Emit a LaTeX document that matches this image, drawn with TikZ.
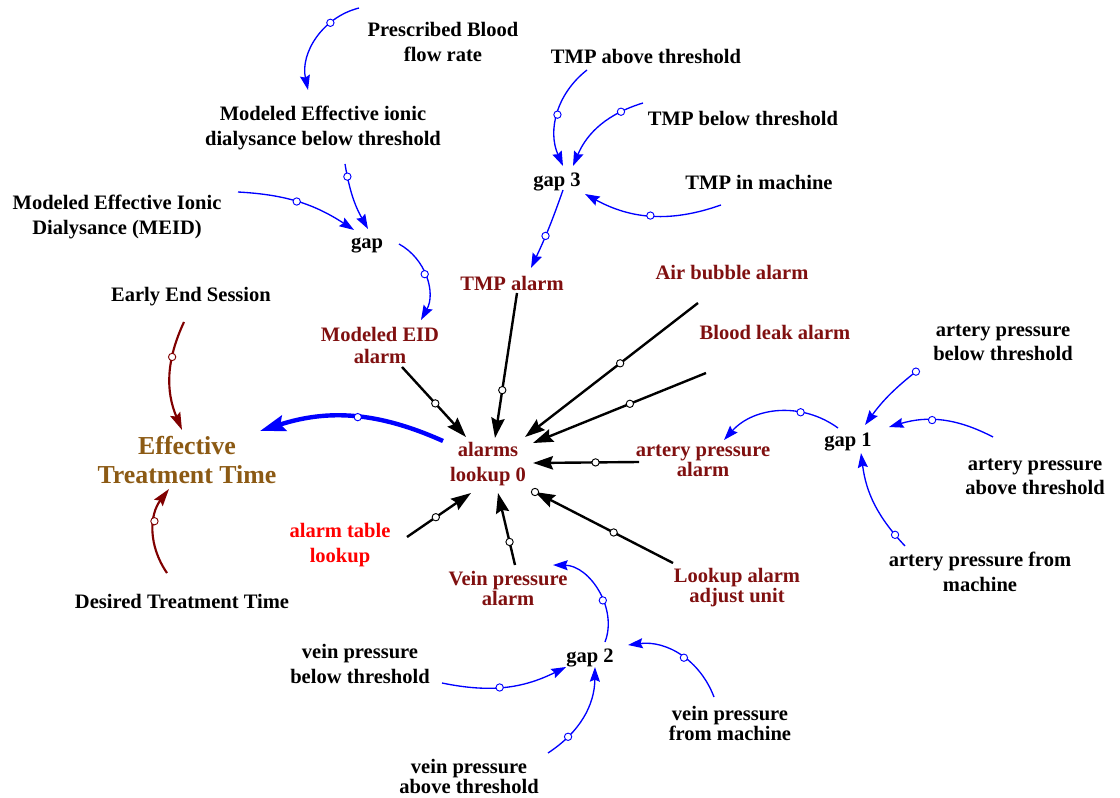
\documentclass[tikz,border=0pt]{standalone}
\usepackage{fontspec}
\setmainfont{Liberation Serif}
\usetikzlibrary{arrows.meta}
\definecolor{vblue}{RGB}{0,0,255}
\definecolor{alarmred}{RGB}{128,16,16}
\definecolor{ettbrown}{RGB}{140,90,20}
\definecolor{tablered}{RGB}{255,0,0}
\definecolor{linkred}{RGB}{128,0,0}
\tikzset{
  var/.style={font=\bfseries\fontsize{15.4}{18.4}\selectfont, align=center, inner sep=0pt},
  tight/.style={font=\bfseries\fontsize{15.4}{15}\selectfont},
  alarm/.style={var, text=alarmred},
  ettnode/.style={var, text=ettbrown, font=\bfseries\fontsize{19.4}{21.75}\selectfont},
  infl/.style={draw=vblue, line width=1pt, -{Stealth[length=11pt,width=7.5pt,inset=1.5pt]}},
  kinfl/.style={draw=black, line width=1.8pt, -{Stealth[length=15pt,width=10pt,inset=2pt]}},
  rinfl/.style={draw=linkred, line width=1.6pt, -{Stealth[length=13pt,width=8pt,inset=2pt]}},
  binfl/.style={draw=vblue, line width=3.3pt, -{Stealth[length=19pt,width=12pt,inset=3pt]}},
  mk/.style={circle, fill=white, inner sep=0pt, minimum size=5.5pt, line width=0.7pt},
  mkb/.style={mk, draw=vblue},
  mkk/.style={mk, draw=black},
  mkr/.style={mk, draw=linkred}
}
\begin{document}
\begin{tikzpicture}[x=0.75pt, y=-0.75pt]
\fill[white] (0,0) rectangle (1120,798);
\useasboundingbox (0,0) rectangle (1120,798);

% variables
\node[var] (pbf) at (443,42) {Prescribed Blood\\flow rate};
\node[var] (medbt) at (323,128) {Modeled Effective ionic\\dialysance below threshold};
\node[var] (meid) at (117,217) {Modeled Effective Ionic\\Dialysance (MEID)};
\node[var] (gap) at (367,245) {gap};
\node[var] (tmpa) at (646,56) {TMP above threshold};
\node[var] (tmpb) at (743,118) {TMP below threshold};
\node[var] (gap3) at (557,182) {gap 3};
\node[var] (tmpm) at (759,182) {TMP in machine};
\node[alarm] (tmpal) at (512,283) {TMP alarm};
\node[alarm] (air) at (732,273) {Air bubble alarm};
\node[alarm] (leak) at (775,332) {Blood leak alarm};
\node[var] (early) at (191,297) {Early End Session};
\node[alarm, font=\bfseries\fontsize{15.4}{16.5}\selectfont] (eida) at (380,345) {Modeled EID\\alarm};
\node[ettnode] (ett) at (187,460) {Effective\\Treatment Time};
\node[alarm] (alarms) at (488,464) {alarms\\lookup 0};
\node[alarm, tight] (apa) at (703,461) {artery pressure\\alarm};
\node[var] (gap1) at (848,442) {gap 1};
\node[var] (apbt) at (1003,343) {artery pressure\\below threshold};
\node[var] (apat) at (1035,477) {artery pressure\\above threshold};
\node[var] (apfm) at (980,572) {artery pressure from\\machine};
\node[var, text=tablered] (atl) at (340,545) {alarm table\\lookup};
\node[alarm, tight] (vpa) at (508,588) {Vein pressure\\alarm};
\node[alarm, tight] (laau) at (737,588) {Lookup alarm\\adjust unit};
\node[var] (dtt) at (182,601) {Desired Treatment Time};
\node[var] (gap2) at (590,658) {gap 2};
\node[var] (vpbt) at (360,664) {vein pressure\\below threshold};
\node[var, tight] (vpat) at (469,776) {vein pressure\\above threshold};
\node[var, tight] (vpfm) at (730,723) {vein pressure\\from machine};

% dialysance branch
\draw[infl] ([shift={(-84,-34)}]pbf.center) to[bend right=44] node[mkb,pos=0.3]{} ([shift={(-15,-38)}]medbt.center);
\draw[infl] ([shift={(22,36)}]medbt.center) to[bend right=10] node[mkb,pos=0.17]{} ([shift={(1,-16)}]gap.center);
\draw[infl] ([shift={(121,-25)}]meid.center) to[bend left=15] node[mkb,pos=0.48]{} ([shift={(-13,-15)}]gap.center);
\draw[infl] ([shift={(32,-1)}]gap.center) to[bend left=45] node[mkb,pos=0.46]{} ([shift={(41,-25)}]eida.center);

% TMP branch
\draw[infl] ([shift={(-59,14)}]tmpa.center) to[bend right=38] node[mkb,pos=0.51]{} ([shift={(6,-16)}]gap3.center);
\draw[infl] ([shift={(-100,-15)}]tmpb.center) to[bend right=25] node[mkb,pos=0.23]{} ([shift={(16,-16)}]gap3.center);
\draw[infl] ([shift={(-38,23)}]tmpm.center) to[bend left=24] node[mkb,pos=0.51]{} ([shift={(28,12)}]gap3.center);
\draw[infl] ([shift={(6,8)}]gap3.center) to[bend left=3] node[mkb,pos=0.59]{} ([shift={(19,-15)}]tmpal.center);

% alarms into the lookup
\draw[kinfl] ([shift={(-34,30)}]air.center) -- node[mkk,pos=0.45]{} ([shift={(37,-27)}]alarms.center);
\draw[kinfl] ([shift={(-69,41)}]leak.center) -- node[mkk,pos=0.44]{} ([shift={(45,-21)}]alarms.center);
\draw[kinfl] ([shift={(-64,1)}]apa.center) -- node[mkk,pos=0.41]{} ([shift={(45,-1)}]alarms.center);
\draw[kinfl] ([shift={(5,10)}]tmpal.center) -- node[mkk,pos=0.67]{} ([shift={(7,-26)}]alarms.center);
\draw[kinfl] ([shift={(22,22)}]eida.center) -- node[mkk,pos=0.52]{} ([shift={(-22,-27)}]alarms.center);
\draw[kinfl] ([shift={(67,-8)}]atl.center) -- node[mkk,pos=0.45]{} ([shift={(-17,29)}]alarms.center);
\draw[kinfl] ([shift={(7,-23)}]vpa.center) -- node[mkk,pos=0.32]{} ([shift={(10,29)}]alarms.center);
\draw[kinfl] ([shift={(-64,-25)}]laau.center) -- node[mkk,pos=0.43]{} node[mkk,pos=1]{} ([shift={(47,28)}]alarms.center);

% treatment time
\draw[binfl] ([shift={(-45,-23)}]alarms.center) to[bend right=21] node[mkb,pos=0.47]{} ([shift={(73,-29)}]ett.center);
\draw[rinfl] ([shift={(-7,25)}]early.center) to[bend right=24] node[mkr,pos=0.32]{} ([shift={(-5,-30)}]ett.center);
\draw[rinfl] ([shift={(-15,-28)}]dtt.center) to[bend left=36] node[mkr,pos=0.61]{} ([shift={(-18,29)}]ett.center);

% artery pressure branch
\draw[infl] ([shift={(-10,-14)}]gap1.center) to[bend right=42] node[mkb,pos=0.32]{} ([shift={(21,-21)}]apa.center);
\draw[infl] ([shift={(-85,27)}]apbt.center) to[bend right=8] node[mkb,pos=0.03]{} ([shift={(17,-17)}]gap1.center);
\draw[infl] ([shift={(-42,-40)}]apat.center) to[bend right=22] node[mkb,pos=0.6]{} ([shift={(41,-15)}]gap1.center);
\draw[infl] ([shift={(-75,-26)}]apfm.center) to[bend left=18] node[mkb,pos=0.13]{} ([shift={(13,11)}]gap1.center);

% vein pressure branch
\draw[infl] ([shift={(15,-16)}]gap2.center) to[bend right=55] node[mkb,pos=0.4]{} ([shift={(45,-23)}]vpa.center);
\draw[infl] ([shift={(82,19)}]vpbt.center) to[bend right=19] node[mkb,pos=0.45]{} ([shift={(-24,9)}]gap2.center);
\draw[infl] ([shift={(79,-23)}]vpat.center) to[bend right=28] node[mkb,pos=0.24]{} ([shift={(5,9)}]gap2.center);
\draw[infl] ([shift={(-16,-26)}]vpfm.center) to[bend right=38] node[mkb,pos=0.46]{} ([shift={(38,-13)}]gap2.center);
\end{tikzpicture}
\end{document}
